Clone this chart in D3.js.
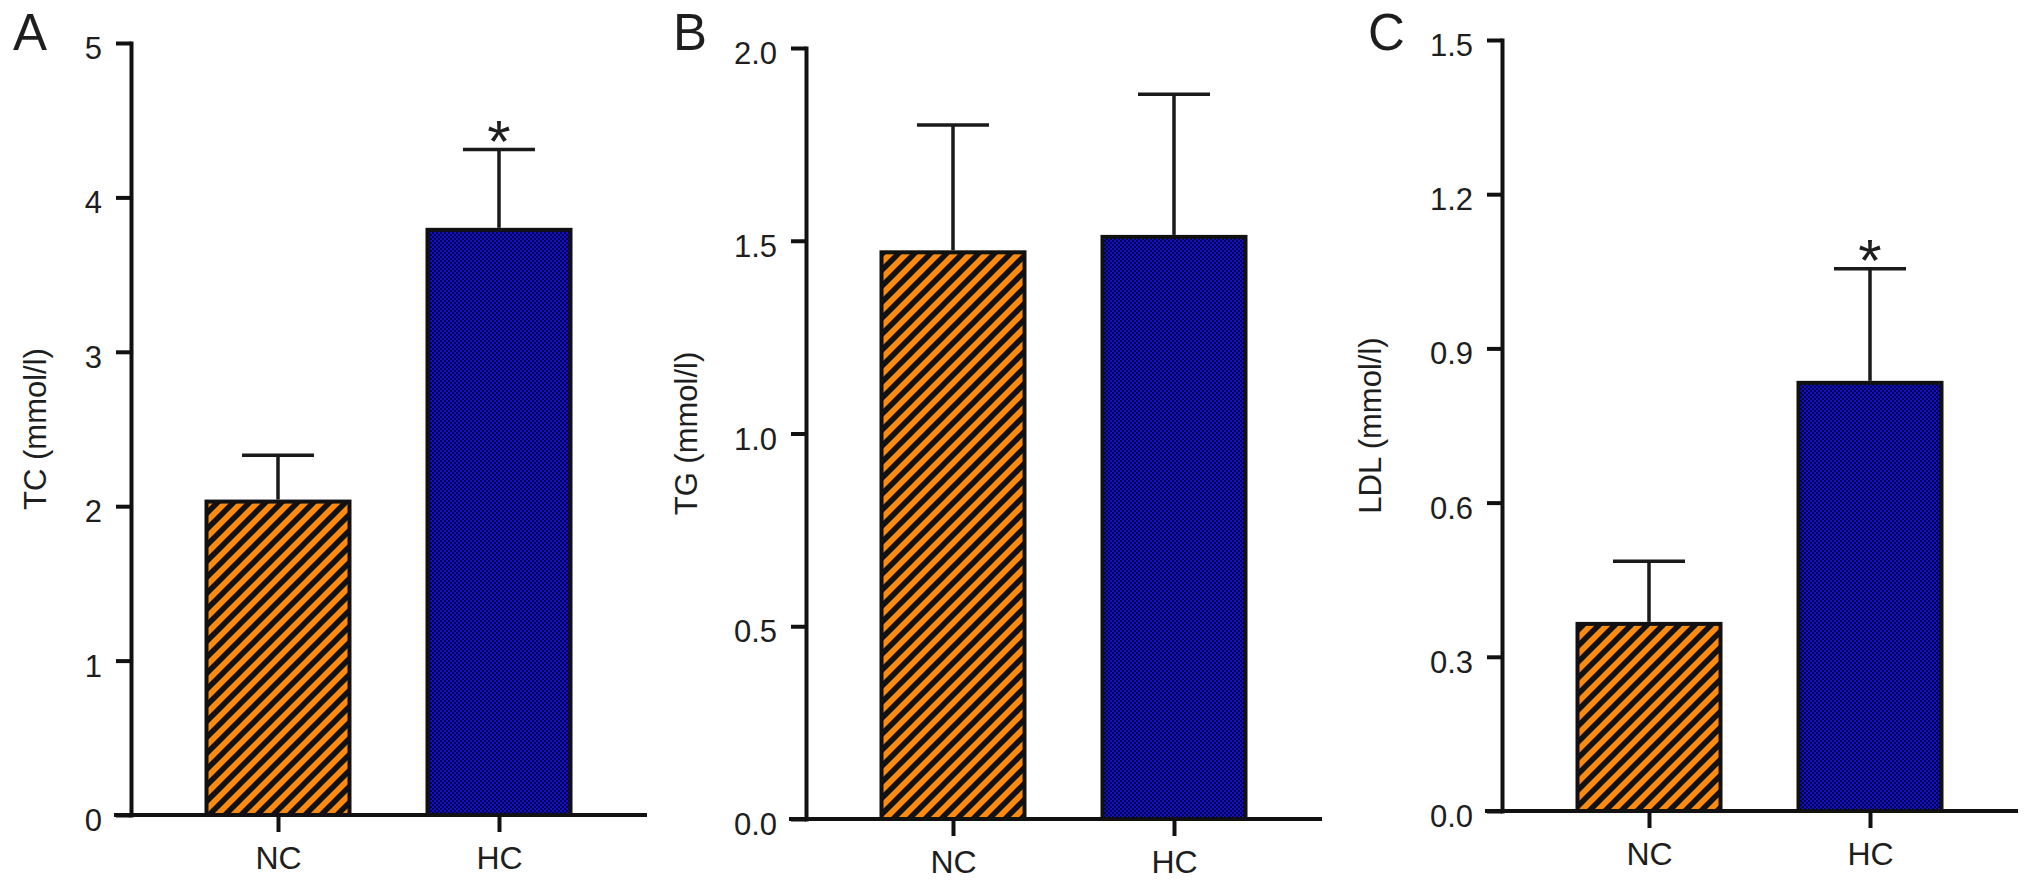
<!DOCTYPE html>
<html>
<head>
<meta charset="utf-8">
<script src="https://cdn.jsdelivr.net/npm/d3@7"></script>
<style>
  body { margin: 0; background: #fff; }
  text { font-family: "Liberation Sans", Arial, Helvetica, sans-serif; fill: #1e1e1e; }
</style>
</head>
<body>
<div id="chart"></div>
<script>

// Chart data, mean and SD per group
var categories = ["NC", "HC"];

var tcMean = [2.03, 3.79];
var tcSd   = [0.30, 0.52];
var tcSig  = ["", "*"];
var tcTicks = [0, 1, 2, 3, 4, 5];

var tgMean = [1.47, 1.51];
var tgSd   = [0.33, 0.37];
var tgSig  = ["", ""];
var tgTicks = [0, 0.5, 1.0, 1.5, 2.0];

var ldlMean = [0.364, 0.833];
var ldlSd   = [0.122, 0.222];
var ldlSig  = ["", "*"];
var ldlTicks = [0, 0.3, 0.6, 0.9, 1.2, 1.5];

var panelLetters = ["A", "B", "C"];
var yLabels = ["TC (mmol/l)", "TG (mmol/l)", "LDL (mmol/l)"];


// Layout of the three panels (pixels)
var width = 2032, height = 884;
var layout = [
  {axisX: 131,  top: 43, bottom: 815, labelX: 35,   letterX: 13},
  {axisX: 806,  top: 48, bottom: 819, labelX: 686,  letterX: 673},
  {axisX: 1502, top: 40, bottom: 811, labelX: 1370, letterX: 1368}
];
var firstBar = 147, secondBar = 368, barWidth = 143, axisEnd = 516;
var capHalf = 36;

var panels = [
  {mean: tcMean,  sd: tcSd,  sig: tcSig,  ticks: tcTicks,  fmt: d3.format("d")},
  {mean: tgMean,  sd: tgSd,  sig: tgSig,  ticks: tgTicks,  fmt: d3.format(".1f")},
  {mean: ldlMean, sd: ldlSd, sig: ldlSig, ticks: ldlTicks, fmt: d3.format(".1f")}
];

var svg = d3.select("#chart")
  .append("svg")
  .attr("width", width)
  .attr("height", height);

// Fill patterns: orange with black diagonal stripes, dark blue checker
var defs = svg.append("defs");

var stripes = defs.append("pattern")
  .attr("id", "stripes")
  .attr("patternUnits", "userSpaceOnUse")
  .attr("width", 16)
  .attr("height", 16);
stripes.append("rect").attr("width", 16).attr("height", 16).attr("fill", "#fb8b10");
stripes.append("path")
  .attr("d", "M-4,4 L4,-4 M0,16 L16,0 M12,20 L20,12")
  .attr("stroke", "#111")
  .attr("stroke-width", 5.5);

var checker = defs.append("pattern")
  .attr("id", "checker")
  .attr("patternUnits", "userSpaceOnUse")
  .attr("width", 4)
  .attr("height", 4);
checker.append("rect").attr("width", 4).attr("height", 4).attr("fill", "#1212c4");
checker.append("rect").attr("width", 2).attr("height", 2).attr("fill", "#00004e");
checker.append("rect").attr("x", 2).attr("y", 2).attr("width", 2).attr("height", 2).attr("fill", "#00004e");

var fills = ["url(#stripes)", "url(#checker)"];


panels.forEach(function(p, i) {
  var L = layout[i];
  var g = svg.append("g");

  var rows = categories.map(function(c, j) {
    return {cat: c, mean: p.mean[j], sd: p.sd[j], sig: p.sig[j], fill: fills[j]};
  });

  // Scales
  var y = d3.scaleLinear()
    .domain([0, p.ticks[p.ticks.length - 1]])
    .range([L.bottom, L.top]);

  var x = d3.scalePoint()
    .domain(categories)
    .range([L.axisX + firstBar, L.axisX + secondBar]);

  // Bars
  g.selectAll("rect.bar")
    .data(rows)
    .enter()
    .append("rect")
    .attr("class", "bar")
    .attr("x", function(d) { return x(d.cat) - barWidth / 2; })
    .attr("y", function(d) { return y(d.mean); })
    .attr("width", barWidth)
    .attr("height", function(d) { return y(0) - y(d.mean); })
    .attr("fill", function(d) { return d.fill; })
    .attr("stroke", "#111")
    .attr("stroke-width", 4);

  // Error bars (upper only)
  g.selectAll("line.err")
    .data(rows)
    .enter()
    .append("line")
    .attr("x1", function(d) { return x(d.cat); })
    .attr("x2", function(d) { return x(d.cat); })
    .attr("y1", function(d) { return y(d.mean) - 2; })
    .attr("y2", function(d) { return y(d.mean + d.sd); })
    .attr("stroke", "#1a1a1a")
    .attr("stroke-width", 3.5);

  g.selectAll("line.cap")
    .data(rows)
    .enter()
    .append("line")
    .attr("x1", function(d) { return x(d.cat) - capHalf; })
    .attr("x2", function(d) { return x(d.cat) + capHalf; })
    .attr("y1", function(d) { return y(d.mean + d.sd); })
    .attr("y2", function(d) { return y(d.mean + d.sd); })
    .attr("stroke", "#1a1a1a")
    .attr("stroke-width", 3.5);

  // Significance marks
  g.selectAll("text.sig")
    .data(rows.filter(function(d) { return d.sig; }))
    .enter()
    .append("text")
    .attr("x", function(d) { return x(d.cat); })
    .attr("y", function(d) { return y(d.mean + d.sd) + 12; })
    .attr("text-anchor", "middle")
    .style("font-size", "60px")
    .text(function(d) { return d.sig; });

  // Y axis
  var yAxis = g.append("g")
    .attr("transform", "translate(" + L.axisX + ",0)")
    .call(d3.axisLeft(y).tickValues(p.ticks).tickFormat(p.fmt).tickSize(15).tickSizeOuter(0).tickPadding(14));
  yAxis.select(".domain").attr("stroke", "#111").attr("stroke-width", 4).attr("stroke-linecap", "square");
  yAxis.selectAll(".tick line").attr("stroke", "#111").attr("stroke-width", 4);
  yAxis.selectAll(".tick text")
    .attr("dy", "0.5em")
    .style("font-size", "31px")
    .style("fill", "#1e1e1e");

  // X axis: baseline line, then category ticks
  g.append("line")
    .attr("x1", L.axisX - 17)
    .attr("x2", L.axisX + axisEnd)
    .attr("y1", y(0))
    .attr("y2", y(0))
    .attr("stroke", "#111")
    .attr("stroke-width", 4);

  var xAxis = g.append("g")
    .attr("transform", "translate(0," + y(0) + ")")
    .call(d3.axisBottom(x).tickSize(17).tickPadding(14));
  xAxis.select(".domain").remove();
  xAxis.selectAll(".tick line").attr("stroke", "#111").attr("stroke-width", 4);
  xAxis.selectAll(".tick text")
    .style("font-size", "32px")
    .style("fill", "#1e1e1e");

  // Y axis title
  g.append("text")
    .attr("transform", "translate(" + L.labelX + "," + ((L.top + L.bottom) / 2) + ") rotate(-90)")
    .attr("dy", "0.35em")
    .attr("text-anchor", "middle")
    .style("font-size", "31px")
    .text(yLabels[i]);

  // Panel letter
  g.append("text")
    .attr("x", L.letterX)
    .attr("y", 50)
    .style("font-size", "51px")
    .text(panelLetters[i]);
});

</script>
</body>
</html>
